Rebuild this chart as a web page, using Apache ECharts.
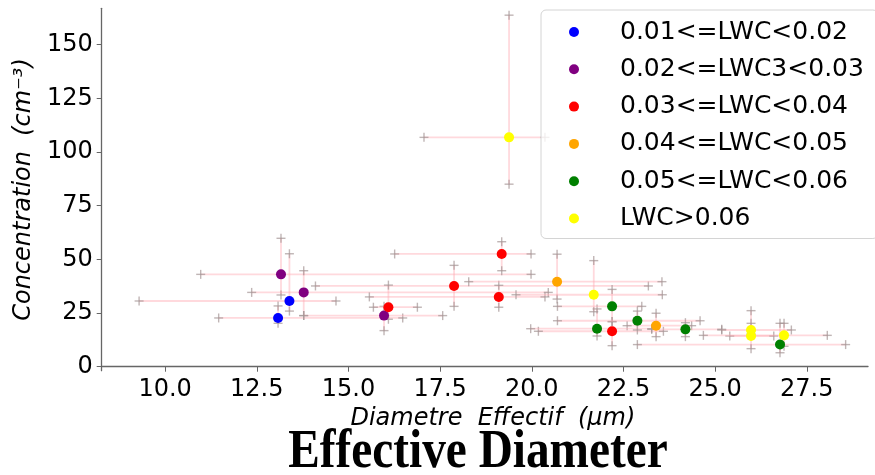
<!DOCTYPE html>
<html>
<head>
<meta charset="utf-8">
<script src="https://cdn.jsdelivr.net/npm/echarts@6/dist/echarts.min.js"></script>
<style>html,body{margin:0;padding:0;background:#fff}#c{width:875px;height:475px}</style>
</head>
<body>
<div id="c"></div>
<script>
// ---- data ----
const groupNames = ['0.01<=LWC<0.02', '0.02<=LWC3<0.03', '0.03<=LWC<0.04', '0.04<=LWC<0.05', '0.05<=LWC<0.06', 'LWC>0.06'];
const group   = [0, 0, 1, 1, 1, 2, 2, 2, 2, 2, 3, 3, 4, 4, 4, 4, 4, 5, 5, 5, 5, 5];
const diam    = [13.39, 13.08, 13.16, 13.78, 15.97, 19.18, 17.88, 19.10, 16.09, 22.19, 20.69, 23.39, 21.78, 22.19, 22.88, 24.19, 26.77, 19.38, 21.69, 25.98, 25.98, 26.88];
const conc    = [30.6, 22.7, 43.0, 34.6, 23.8, 52.5, 37.6, 32.5, 27.7, 16.5, 39.6, 19.1, 17.7, 28.1, 21.4, 17.4, 10.3, 106.8, 33.5, 17.1, 14.3, 14.6];
const diamLow = [9.29, 11.46, 10.97, 12.36, 13.78, 16.26, 14.10, 15.57, 15.68, 20.18, 18.28, 22.60, 19.97, 20.70, 20.70, 23.27, 22.88, 17.06, 19.57, 25.18, 25.40, 24.68];
const diamHigh= [14.66, 16.48, 19.98, 20.45, 17.57, 19.98, 23.18, 20.36, 16.88, 23.59, 23.55, 24.36, 23.27, 23.00, 24.59, 25.18, 28.56, 20.36, 23.56, 27.08, 26.60, 28.06];
const concLow = [25.9, 20.2, 33.4, 23.8, 16.8, 44.7, 28.1, 27.7, 22.1, 9.8, 31.5, 14.0, 14.3, 21.0, 17.1, 14.0, 6.5, 85.0, 25.6, 8.4, 15.2, 9.5];
const concHigh= [52.6, 28.3, 59.8, 44.7, 28.1, 58.2, 47.2, 37.9, 38.0, 21.0, 52.4, 24.9, 26.9, 36.0, 25.9, 20.5, 20.2, 163.7, 49.4, 26.1, 20.2, 20.2];
const xTicks = [10, 12.5, 15, 17.5, 20, 22.5, 25, 27.5];
const yTicks = [0, 25, 50, 75, 100, 125, 150];

// ---- styles ----
const colors = ['#0000ff', '#800080', '#ff0000', '#ffa500', '#008000', '#ffff00'];
const FONT = 'DejaVu Sans';

const errData = diam.map((d, i) => [d, conc[i], diamLow[i], diamHigh[i], concLow[i], concHigh[i]]);

function plus(p) {
  const s = 4.5;
  const st = { stroke: 'rgba(165,150,150,0.7)', lineWidth: 1.4 };
  return [
    { type: 'line', shape: { x1: p[0] - s, y1: p[1], x2: p[0] + s, y2: p[1] }, style: st },
    { type: 'line', shape: { x1: p[0], y1: p[1] - s, x2: p[0], y2: p[1] + s }, style: st }
  ];
}

const series = [{
  type: 'custom',
  z: 1,
  silent: true,
  clip: false,
  data: errData,
  encode: { x: [0, 2, 3], y: [1, 4, 5] },
  renderItem: function (params, api) {
    const x = api.value(0), y = api.value(1);
    const pL = api.coord([api.value(2), y]);
    const pR = api.coord([api.value(3), y]);
    const pB = api.coord([x, api.value(4)]);
    const pT = api.coord([x, api.value(5)]);
    const ln = { stroke: 'rgba(255,170,180,0.45)', lineWidth: 1.8 };
    return {
      type: 'group',
      children: [
        { type: 'line', shape: { x1: pL[0], y1: pL[1], x2: pR[0], y2: pR[1] }, style: ln },
        { type: 'line', shape: { x1: pB[0], y1: pB[1], x2: pT[0], y2: pT[1] }, style: ln }
      ].concat(plus(pL), plus(pR), plus(pB), plus(pT))
    };
  }
}];

groupNames.forEach((name, g) => {
  const pts = [];
  diam.forEach((d, i) => { if (group[i] === g) pts.push([d, conc[i]]); });
  series.push({
    name: name,
    type: 'scatter',
    z: 3,
    symbol: 'circle',
    symbolSize: 10,
    itemStyle: { color: colors[g], opacity: 1 },
    data: pts
  });
});

const chart = echarts.init(document.getElementById('c'), null, { renderer: 'canvas' });
chart.setOption({
  animation: false,
  backgroundColor: '#fff',
  graphic: [{
    type: 'text',
    x: 478,
    y: 425,
    scaleX: 0.86,
    silent: true,
    style: {
      text: 'Effective Diameter',
      fontFamily: 'Liberation Serif',
      fontWeight: 'bold',
      fontSize: 55,
      fill: '#000',
      textAlign: 'center',
      textVerticalAlign: 'top'
    }
  }],
  grid: { left: 101.7, right: 7, top: 8.3, bottom: 104.3, containLabel: false },
  legend: {
    orient: 'vertical',
    left: 541,
    top: 10,
    padding: [8, 14, 6, 28],
    itemWidth: 10,
    itemHeight: 10,
    itemGap: 9.3,
    icon: 'circle',
    backgroundColor: 'rgba(255,255,255,0.8)',
    borderColor: '#d4d4d4',
    borderWidth: 1,
    borderRadius: 5,
    data: groupNames,
    textStyle: { fontFamily: FONT, fontSize: 25, color: '#000', lineHeight: 28, padding: [0, 0, 0, 36] }
  },
  xAxis: {
    type: 'value',
    min: 8.27,
    max: 29.17,
    name: 'Diametre  Effectif  (μm)',
    nameLocation: 'middle',
    nameGap: 35,
    nameTextStyle: { fontFamily: FONT, fontStyle: 'italic', fontSize: 24, color: '#000', padding: [0, 0, 0, 16] },
    axisLine: { show: true, lineStyle: { color: '#666', width: 1.3 } },
    axisTick: { show: true, length: 5, lineStyle: { color: '#666' }, customValues: xTicks },
    axisLabel: { fontFamily: FONT, fontSize: 24, color: '#000', margin: 7, customValues: xTicks, formatter: v => Number(v).toFixed(1) },
    splitLine: { show: false }
  },
  yAxis: {
    type: 'value',
    min: -1.86,
    max: 166.9,
    name: 'Concentration  (cm⁻³)',
    nameLocation: 'middle',
    nameRotate: 90,
    nameGap: 64,
    nameTextStyle: { fontFamily: FONT, fontStyle: 'italic', fontSize: 24, color: '#000' },
    axisLine: { show: true, lineStyle: { color: '#666', width: 1.3 } },
    axisTick: { show: true, length: 5, lineStyle: { color: '#666' }, customValues: yTicks },
    axisLabel: { fontFamily: FONT, fontSize: 24, color: '#000', margin: 9, customValues: yTicks },
    splitLine: { show: false }
  },
  series: series
});
</script>
</body>
</html>
